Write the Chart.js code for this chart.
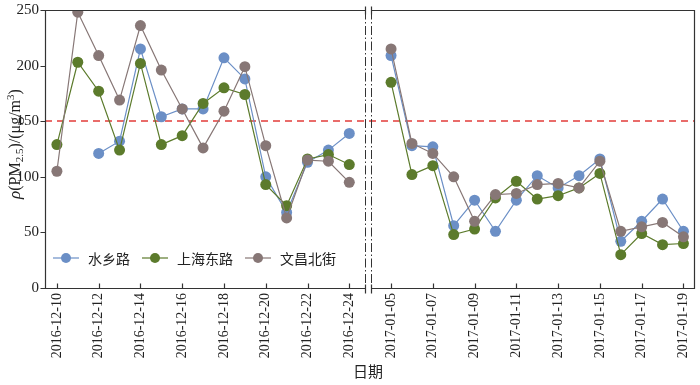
<!DOCTYPE html>
<html>
<head>
<meta charset="utf-8">
<script src="https://cdn.jsdelivr.net/npm/chart.js@4.4.1/dist/chart.umd.min.js"></script>
<style>
  html, body { margin: 0; padding: 0; background: #fff; }
  #wrap { width: 700px; height: 385px; }
</style>
</head>
<body>
<div id="wrap"><canvas id="pmChart" width="700" height="385"></canvas></div>
<script>
// dates of the two periods
var datesDec = ['2016-12-10','2016-12-11','2016-12-12','2016-12-13','2016-12-14','2016-12-15','2016-12-16',
  '2016-12-17','2016-12-18','2016-12-19','2016-12-20','2016-12-21','2016-12-22','2016-12-23','2016-12-24'];
var datesJan = ['2017-01-05','2017-01-06','2017-01-07','2017-01-08','2017-01-09','2017-01-10','2017-01-11',
  '2017-01-12','2017-01-13','2017-01-14','2017-01-15','2017-01-16','2017-01-17','2017-01-18','2017-01-19'];

// PM2.5 values, ug/m3
var shuixiangDec = [null, null, 121, 132, 215, 154, 161, 161, 207, 188, 100, 68, 113, 124, 139];
var shuixiangJan = [209, 128, 127, 56, 79, 51, 79, 101, 90, 101, 116, 42, 60, 80, 51];
var shanghaiDec = [129, 203, 177, 124, 202, 129, 137, 166, 180, 174, 93, 74, 116, 120, 111];
var shanghaiJan = [185, 102, 110, 48, 53, 81, 96, 80, 83, 90, 103, 30, 49, 39, 40];
var wenchangDec = [105, 248, 209, 169, 236, 196, 161, 126, 159, 199, 128, 63, 115, 114, 95];
var wenchangJan = [215, 130, 121, 100, 60, 84, 85, 93, 94, 90, 114, 51, 55, 59, 46];

var yTicks = [0, 50, 100, 150, 200, 250];
var limitValue = 150;

var serif = '"Liberation Serif", "Times New Roman", "Noto Sans CJK SC", serif';
var cjk = '"Noto Sans CJK SC", "Liberation Serif", serif';

// left panel at x = 0..14, right panel at x = 16..30, null at 15 breaks the line
var janOffset = 16;
function series(dec, jan) {
  var pts = [];
  dec.forEach(function(v, i) { pts.push({x: i, y: v}); });
  pts.push({x: 15, y: null});
  jan.forEach(function(v, i) { pts.push({x: i + janOffset, y: v}); });
  return pts;
}

var tickPos = [];
var tickText = {};
for (var i = 0; i < 15; i += 2) {
  tickPos.push(i); tickText[i] = datesDec[i];
  tickPos.push(i + janOffset); tickText[i + janOffset] = datesJan[i];
}
tickPos.sort(function(a, b) { return a - b; });

var breakA = 14.76, breakB = 15.04;

var framePlugin = {
  id: 'frame',
  beforeDatasetsDraw: function(chart) {
    var ctx = chart.ctx, a = chart.chartArea;
    var y = Math.round(chart.scales.y.getPixelForValue(limitValue));
    ctx.save();
    ctx.strokeStyle = '#e23c3a';
    ctx.lineWidth = 1.3;
    ctx.setLineDash([7, 5]);
    ctx.beginPath();
    ctx.moveTo(a.left, y); ctx.lineTo(a.right, y);
    ctx.stroke();
    ctx.restore();
  },
  afterDraw: function(chart) {
    var ctx = chart.ctx, a = chart.chartArea, xs = chart.scales.x, ys = chart.scales.y;
    var b1 = Math.round(xs.getPixelForValue(breakA)) + 0.5;
    var b2 = Math.round(xs.getPixelForValue(breakB)) + 0.5;
    var L = a.left + 0.5, R = Math.round(a.right) - 0.5, T = Math.round(a.top) + 0.5, B = Math.round(a.bottom) + 0.5;
    ctx.save();
    ctx.strokeStyle = '#333';
    ctx.lineWidth = 1.2;
    ctx.beginPath();
    ctx.moveTo(b1, T); ctx.lineTo(L, T); ctx.lineTo(L, B); ctx.lineTo(b1, B);
    ctx.moveTo(b2, T); ctx.lineTo(R, T); ctx.lineTo(R, B); ctx.lineTo(b2, B);
    // x ticks point inward
    tickPos.forEach(function(v) {
      var px = Math.round(xs.getPixelForValue(v)) + 0.5;
      ctx.moveTo(px, B); ctx.lineTo(px, B - 5);
    });
    // y ticks point outward
    yTicks.forEach(function(v) {
      var py = Math.round(ys.getPixelForValue(v)) + 0.5;
      ctx.moveTo(L, py); ctx.lineTo(L - 5, py);
    });
    // break marks
    ctx.moveTo(b1, T - 4); ctx.lineTo(b1, T + 4);
    ctx.moveTo(b2, T - 4); ctx.lineTo(b2, T + 4);
    ctx.moveTo(b1, B - 4); ctx.lineTo(b1, B + 5);
    ctx.moveTo(b2, B - 4); ctx.lineTo(b2, B + 5);
    ctx.stroke();
    ctx.lineWidth = 1;
    ctx.setLineDash([9, 2.5, 1.5, 2.5]);
    ctx.beginPath();
    ctx.moveTo(b1, T); ctx.lineTo(b1, B);
    ctx.moveTo(b2, T); ctx.lineTo(b2, B);
    ctx.stroke();
    ctx.setLineDash([]);

    // legend inside the plot
    var ly = 258, lx = 53;
    ctx.font = '14px ' + cjk;
    ctx.textBaseline = 'middle';
    chart.data.datasets.forEach(function(ds) {
      ctx.strokeStyle = ds.borderColor;
      ctx.lineWidth = 1.2;
      ctx.beginPath(); ctx.moveTo(lx, ly); ctx.lineTo(lx + 26, ly); ctx.stroke();
      ctx.fillStyle = ds.backgroundColor;
      ctx.beginPath(); ctx.arc(lx + 13, ly, 5, 0, Math.PI * 2); ctx.fill();
      ctx.fillStyle = '#222';
      ctx.fillText(ds.label, lx + 35, ly + 1);
      lx += 35 + ctx.measureText(ds.label).width + 12;
    });

    // y axis title: rho(PM2.5)/(ug/m3)
    ctx.save();
    ctx.translate(15, 144);
    ctx.rotate(-Math.PI / 2);
    ctx.fillStyle = '#222';
    ctx.textBaseline = 'alphabetic';
    var parts = [
      {t: 'ρ', f: 'italic 17px ' + serif, dy: 0},
      {t: '(PM', f: '16px ' + serif, dy: 0},
      {t: '2.5', f: '11px ' + serif, dy: 3},
      {t: ')/(μg/m', f: '16px ' + serif, dy: 0},
      {t: '3', f: '11px ' + serif, dy: -6},
      {t: ')', f: '16px ' + serif, dy: 0}
    ];
    var w = 0;
    parts.forEach(function(p) { ctx.font = p.f; p.w = ctx.measureText(p.t).width; w += p.w; });
    var x0 = -w / 2;
    parts.forEach(function(p) { ctx.font = p.f; ctx.fillText(p.t, x0, 5 + p.dy); x0 += p.w; });
    ctx.restore();

    // x axis title
    ctx.font = '15px ' + cjk;
    ctx.textAlign = 'center';
    ctx.textBaseline = 'middle';
    ctx.fillStyle = '#222';
    ctx.fillText('日期', 368, 371);
    ctx.restore();
  }
};

function lineSet(label, color, dec, jan, order) {
  return {
    label: label,
    data: series(dec, jan),
    borderColor: color,
    backgroundColor: color,
    borderWidth: 1.2,
    pointRadius: 5.5,
    pointBorderWidth: 0,
    pointBackgroundColor: color,
    spanGaps: false,
    order: order
  };
}

var pmChart = new Chart(document.getElementById('pmChart'), {
  type: 'line',
  data: {
    datasets: [
      lineSet('水乡路', '#6b8fc6', shuixiangDec, shuixiangJan, 3),
      lineSet('上海东路', '#5c7b2c', shanghaiDec, shanghaiJan, 2),
      lineSet('文昌北街', '#877776', wenchangDec, wenchangJan, 1)
    ]
  },
  options: {
    responsive: false,
    devicePixelRatio: 1,
    animation: false,
    events: [],
    layout: { padding: { top: 10, right: 2, left: 0, bottom: 0 } },
    plugins: { legend: { display: false }, tooltip: { enabled: false } },
    scales: {
      x: {
        type: 'linear',
        min: -0.57,
        max: 30.53,
        grid: { display: false, drawTicks: false },
        border: { display: false },
        afterBuildTicks: function(scale) {
          scale.ticks = tickPos.map(function(v) { return {value: v}; });
        },
        afterFit: function(scale) {
          scale.height = 97;
          scale.paddingLeft = 0; scale.paddingRight = 0;
        },
        ticks: {
          autoSkip: false,
          maxRotation: 90,
          minRotation: 90,
          padding: 5,
          color: '#222',
          font: { family: serif, size: 14 },
          callback: function(v) { return tickText[v] || ''; }
        }
      },
      y: {
        min: 0,
        max: 250,
        grid: { display: false, drawTicks: false },
        border: { display: false },
        afterBuildTicks: function(scale) {
          scale.ticks = yTicks.map(function(v) { return {value: v}; });
        },
        afterFit: function(scale) {
          scale.width = 45;
          scale.paddingTop = 0; scale.paddingBottom = 0;
        },
        ticks: {
          padding: 6,
          color: '#222',
          font: { family: serif, size: 15 }
        }
      }
    }
  },
  plugins: [framePlugin]
});
</script>
</body>
</html>
